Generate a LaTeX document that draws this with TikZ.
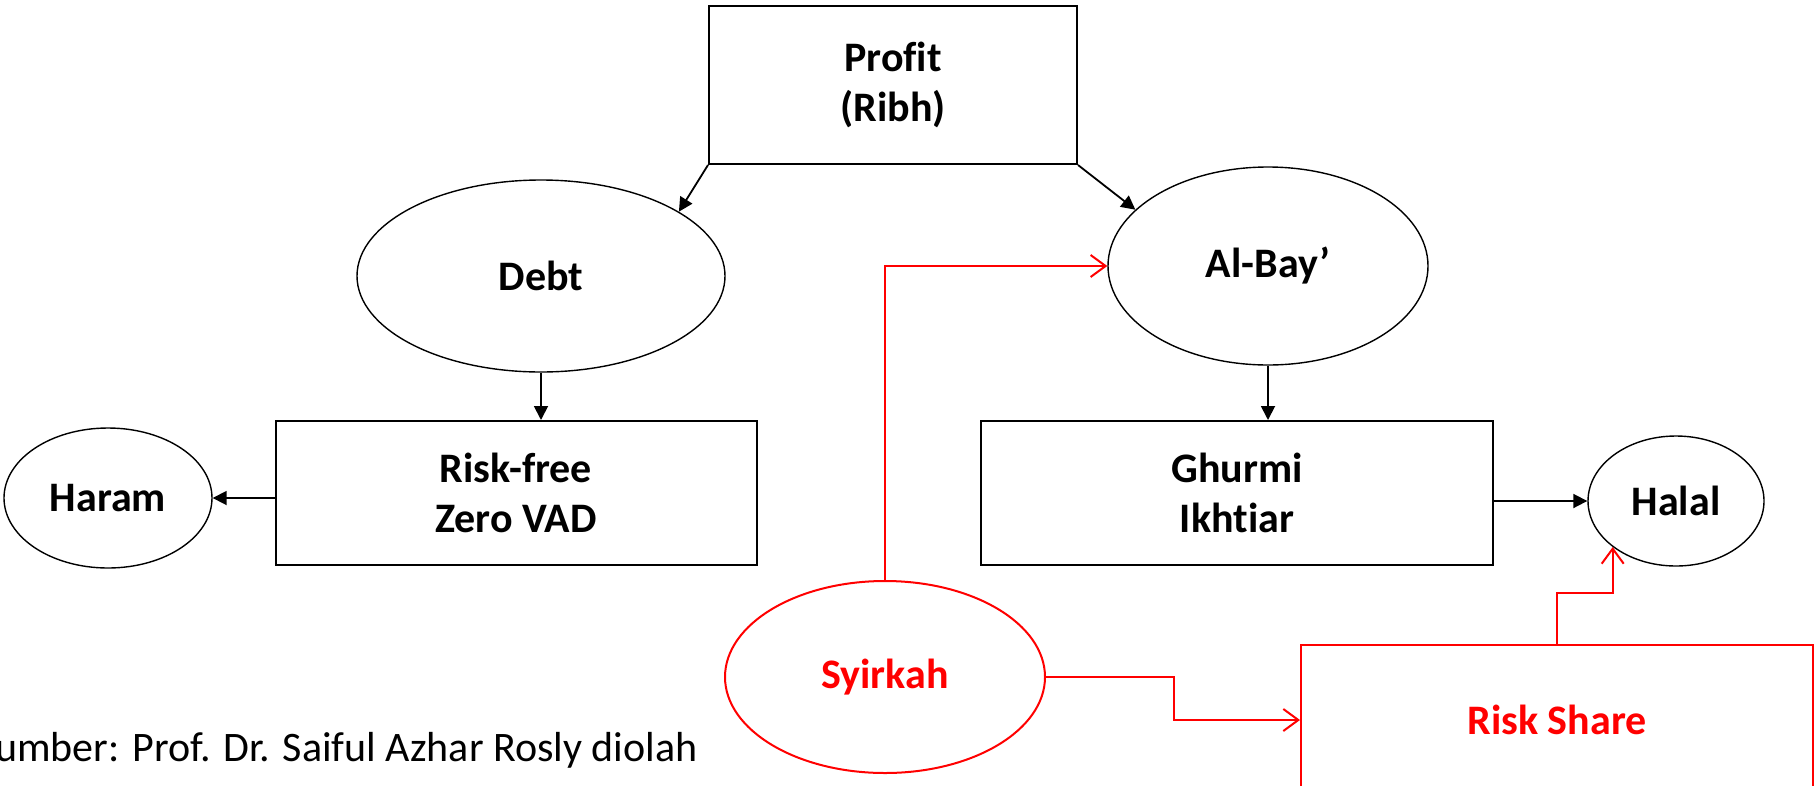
\documentclass[tikz,border=0pt]{standalone}
\usepackage{fontspec}
\setmainfont{Carlito}[Ligatures=NoCommon]
\usetikzlibrary{shapes.geometric,arrows.meta}

\begin{document}
\begin{tikzpicture}[x=1pt,y=-1pt,
    block_box/.style ={rectangle, draw=black, line width=2pt, fill=white,
      align=center, inner sep=0pt, font=\fontsize{42}{50}\selectfont\bfseries},
    block_oval/.style ={ellipse, draw=black, line width=1.4pt, fill=white,
      align=center, inner sep=0pt, font=\fontsize{42}{50}\selectfont\bfseries},
    block_red_box/.style ={block_box, draw=red, text=red},
    block_red_oval/.style ={block_oval, draw=red, text=red, line width=2pt},
    block_noborder/.style ={draw=none, inner sep=0pt, font=\fontsize{42}{50}\selectfont},
    line_black/.style ={draw, line width=1.8pt, -{Triangle[length=14pt,width=14pt]}},
    line_red/.style ={draw=red, line width=2pt, -{Straight Barb[length=15pt,width=22pt]}}]
  \useasboundingbox (0,0) rectangle (1820,785);
    % placing the blocks
    \node [block_box, minimum width=368pt, minimum height=158pt] (profit) at (893,85) {Profit\\(Ribh)};
    \node [block_oval, minimum width=368pt, minimum height=192pt] (debt) at (541,276) {Debt};
    \node [block_oval, minimum width=320pt, minimum height=198pt] (albay) at (1268,266) {Al-Bay’};
    \node [block_box, minimum width=481pt, minimum height=144pt] (riskfree) at (516,493) {Risk-free\\Zero VAD};
    \node [block_oval, minimum width=208pt, minimum height=140pt] (haram) at (108,498) {Haram};
    \node [block_box, minimum width=512pt, minimum height=144pt] (ghurmi) at (1237,493) {Ghurmi\\Ikhtiar};
    \node [block_oval, minimum width=176pt, minimum height=130pt] (halal) at (1676,501) {Halal};
    \node [block_red_oval, minimum width=320pt, minimum height=192pt] (syirkah) at (885,677) {Syirkah};
    \node [block_red_box, minimum width=512pt, minimum height=150pt] (riskshare) at (1557,720) {Risk Share};
    \node [block_noborder, anchor=base west] (source) at (-5,761) {umber: Prof. Dr. Saiful Azhar Rosly diolah};
    % connecting nodes with paths
    \begin{scope}[every path/.style=line_black]
      \path (profit.south west) -- (debt.25);
      \path (profit.south east) -- (albay.157);
      \path (debt.south) -- (debt.south |- riskfree.north);
      \path (albay.south) -- (albay.south |- ghurmi.north);
      \path (riskfree.west |- haram.east) -- (haram.east);
      \path (ghurmi.east |- halal.west) -- (halal.west);
    \end{scope}
    \begin{scope}[every path/.style=line_red]
      \path (syirkah.north) |- (albay.west);
      \path (syirkah.east) -- ++(128,0) |- (riskshare.west);
      \path (riskshare.north) -- ++(0,-51) -| (halal.216);
    \end{scope}
\end{tikzpicture}
\end{document}
